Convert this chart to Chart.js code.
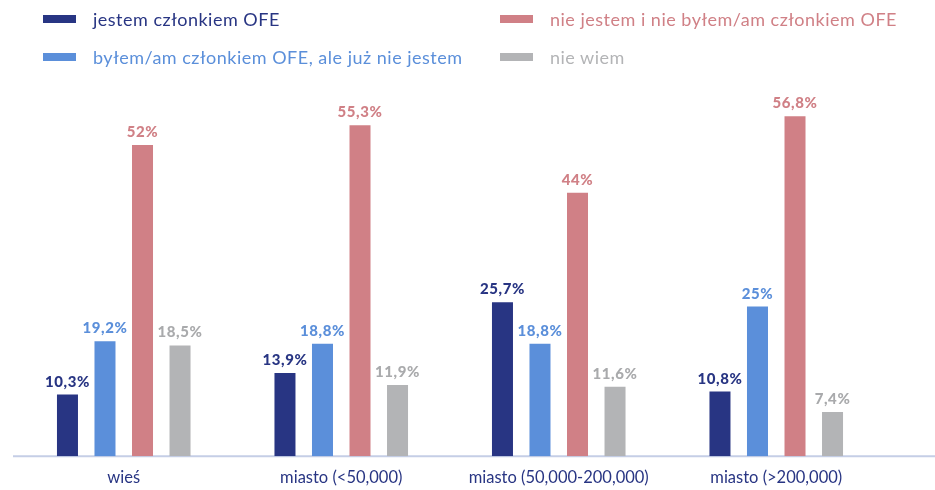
<!DOCTYPE html>
<html>
<head>
<meta charset="utf-8">
<script src="https://cdn.jsdelivr.net/npm/chart.js@4"></script>
<style>
  html, body { margin: 0; padding: 0; background: #fff; }
  #wrap { position: relative; width: 935px; height: 490px; }
  .leg { position: absolute; font-family: Lato, sans-serif; font-size: 18px; line-height: 20px; letter-spacing: 0.5px; white-space: nowrap; }
  .leg span { position: absolute; left: -50px; top: 6px; width: 33px; height: 8px; }
</style>
</head>
<body>
<div id="wrap">
  <canvas id="charts" width="935" height="490"></canvas>
  <div id="legend"></div>
</div>
<script>
var categories = ['wieś', 'miasto (<50,000)', 'miasto (50,000-200,000)', 'miasto (>200,000)'];
var seriesNames = ['jestem członkiem OFE', 'byłem/am członkiem OFE, ale już nie jestem', 'nie jestem i nie byłem/am członkiem OFE', 'nie wiem'];
var member = [10.3, 13.9, 25.7, 10.8];
var formerMember = [19.2, 18.8, 18.8, 25];
var neverMember = [52, 55.3, 44, 56.8];
var dontKnow = [18.5, 11.9, 11.6, 7.4];
var colors = ['#283583', '#5b8fda', '#d08086', '#b3b4b6'];
var labelColors = ['#283583', '#5b8fda', '#d08086', '#a9aaac'];

// legend, two columns like the original
var legendPos = [[93, 9], [93, 47], [550, 9], [550, 47]];
var legend = document.getElementById('legend');
seriesNames.forEach(function(name, i){
    var d = document.createElement('div');
    d.className = 'leg';
    d.style.left = legendPos[i][0] + 'px';
    d.style.top = legendPos[i][1] + 'px';
    d.style.color = colors[i];
    d.innerHTML = '<span style="background:' + colors[i] + '"></span>';
    d.appendChild(document.createTextNode(name));
    legend.appendChild(d);
});

var baseline = {
    id: 'baseline',
    beforeDatasetsDraw: function(chart){
        var c = chart.ctx;
        var y = chart.scales.y.getPixelForValue(0);
        c.save();
        c.strokeStyle = '#c5cee6';
        c.lineWidth = 2;
        c.beginPath();
        c.moveTo(13, y);
        c.lineTo(chart.width, y);
        c.stroke();
        c.restore();
    }
};

var valueLabels = {
    id: 'valueLabels',
    afterDatasetsDraw: function(chart){
        var c = chart.ctx;
        c.save();
        c.font = '900 15px Lato, sans-serif';
        c.letterSpacing = '0.6px';
        c.textAlign = 'center';
        c.textBaseline = 'alphabetic';
        chart.data.datasets.forEach(function(ds, i){
            chart.getDatasetMeta(i).data.forEach(function(bar, j){
                c.fillStyle = labelColors[i];
                c.fillText(String(ds.data[j]).replace('.', ',') + '%', bar.x, bar.y - 8);
            });
        });
        c.restore();
    }
};

var ctx = document.getElementById('charts').getContext('2d');
var chart = new Chart(ctx, {
    type: 'bar',
    data: {
        labels: categories,
        datasets: [member, formerMember, neverMember, dontKnow].map(function(d, i){
            return {
                label: seriesNames[i],
                data: d,
                backgroundColor: colors[i],
                categoryPercentage: 0.69,
                barPercentage: 0.56
            };
        })
    },
    options: {
        responsive: false,
        animation: false,
        layout: { padding: { top: 97, left: 15, right: 50, bottom: -10 } },
        plugins: {
            legend: { display: false },
            tooltip: { enabled: false }
        },
        scales: {
            y: { display: false, min: 0, max: 60 },
            x: {
                grid: { display: false, drawTicks: false },
                border: { display: false },
                ticks: {
                    padding: 12,
                    color: '#283583',
                    font: { family: 'Lato, sans-serif', size: 16.5 }
                }
            }
        }
    },
    plugins: [baseline, valueLabels]
});
</script>
</body>
</html>
